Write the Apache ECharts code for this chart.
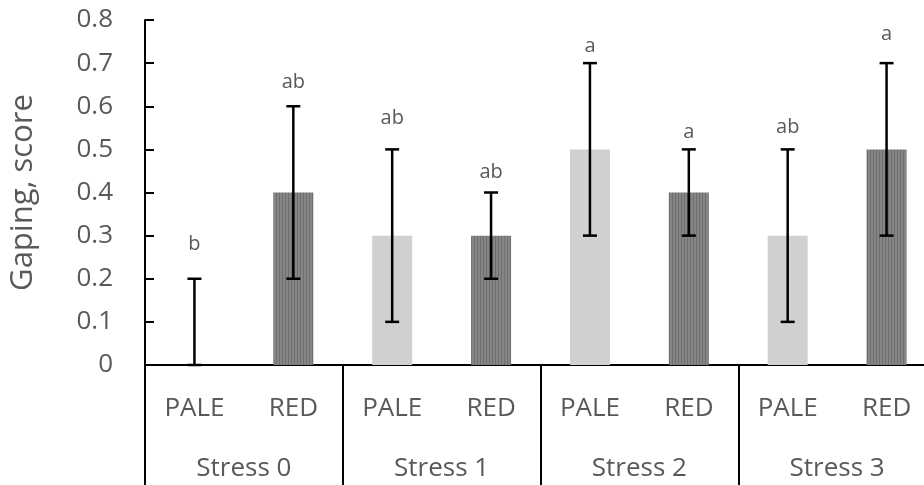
<!DOCTYPE html>
<html>
<head>
<meta charset="utf-8">
<script src="https://cdn.jsdelivr.net/npm/echarts@6/dist/echarts.min.js"></script>
<style>
  html, body { margin: 0; padding: 0; background: #fff; }
  #chart { width: 924px; height: 485px; }
</style>
</head>
<body>
<div id="chart"></div>
<script>
// data
var fish = ['PALE', 'RED', 'PALE', 'RED', 'PALE', 'RED', 'PALE', 'RED'];
var groups = ['Stress 0', 'Stress 1', 'Stress 2', 'Stress 3'];
var means = [0, 0.4, 0.3, 0.3, 0.5, 0.4, 0.3, 0.5];
var errLow = [0, 0.2, 0.1, 0.2, 0.3, 0.3, 0.1, 0.3];
var errHigh = [0.2, 0.6, 0.5, 0.4, 0.7, 0.5, 0.5, 0.7];
var letters = ['b', 'ab', 'ab', 'ab', 'a', 'a', 'ab', 'a'];
var letterY = [0.28, 0.656, 0.573, 0.448, 0.738, 0.54, 0.552, 0.766];

var textColor = '#595959';
var font = 'Open Sans';

// vertical stripe fill for the RED bars
var stripe = document.createElement('canvas');
stripe.width = 3; stripe.height = 4;
var sc = stripe.getContext('2d');
sc.fillStyle = '#858585'; sc.fillRect(0, 0, 3, 4);
sc.fillStyle = '#6f6f6f'; sc.fillRect(0, 0, 1, 4);

var barData = means.map(function (v, i) {
  return {
    value: v,
    itemStyle: { color: i % 2 === 0 ? '#d0d0d0' : { image: stripe, repeat: 'repeat' } }
  };
});
var errData = means.map(function (v, i) { return [i, errLow[i], errHigh[i]]; });
var letterData = letters.map(function (t, i) { return [i, letterY[i], t]; });

var myChart = echarts.init(document.getElementById('chart'));
var option = {
  animation: false,
  grid: { left: 145, top: 20, right: -12, bottom: 120, outerBoundsMode: 'none', containLabel: false },
  xAxis: [{
    type: 'category',
    data: fish,
    axisLine: { lineStyle: { color: '#000', width: 2 } },
    axisTick: { show: false },
    axisLabel: { color: textColor, fontFamily: font, fontSize: 26, margin: 31 }
  }, {
    type: 'category',
    data: groups,
    position: 'bottom',
    axisLine: { show: false },
    axisTick: { show: true, length: 125, lineStyle: { color: '#000', width: 2 } },
    axisLabel: { color: textColor, fontFamily: font, fontSize: 26, margin: 91 }
  }],
  yAxis: {
    type: 'value',
    min: 0, max: 0.8, interval: 0.1,
    name: 'Gaping, score',
    nameLocation: 'middle',
    nameGap: 106,
    nameTextStyle: { color: textColor, fontFamily: font, fontSize: 31 },
    axisLine: { show: true, lineStyle: { color: '#000', width: 2 } },
    axisTick: { show: true, inside: true, length: 9, lineStyle: { color: '#000', width: 2 } },
    axisLabel: {
      color: textColor, fontFamily: font, fontSize: 26, margin: 32,
      formatter: function (v) { return v === 0 ? '0' : v.toFixed(1); }
    },
    splitLine: { show: false }
  },
  series: [{
    type: 'bar',
    data: barData,
    barWidth: 40
  }, {
    type: 'custom',
    data: errData,
    z: 5,
    renderItem: function (params, api) {
      var lo = api.coord([api.value(0), api.value(1)]);
      var hi = api.coord([api.value(0), api.value(2)]);
      var w = 7;
      var st = { stroke: '#000', lineWidth: 2.5 };
      return {
        type: 'group',
        children: [
          { type: 'line', shape: { x1: hi[0], y1: hi[1], x2: lo[0], y2: lo[1] }, style: st },
          { type: 'line', shape: { x1: hi[0] - w, y1: hi[1], x2: hi[0] + w, y2: hi[1] }, style: st },
          { type: 'line', shape: { x1: lo[0] - w, y1: lo[1], x2: lo[0] + w, y2: lo[1] }, style: st }
        ]
      };
    }
  }, {
    type: 'custom',
    data: letterData,
    z: 6,
    renderItem: function (params, api) {
      var p = api.coord([api.value(0), api.value(1)]);
      return {
        type: 'text',
        x: p[0], y: p[1],
        style: {
          text: letters[params.dataIndex],
          fill: textColor,
          font: '20px "' + font + '"',
          align: 'center',
          verticalAlign: 'middle'
        }
      };
    }
  }]
};
myChart.setOption(option);
</script>
</body>
</html>
